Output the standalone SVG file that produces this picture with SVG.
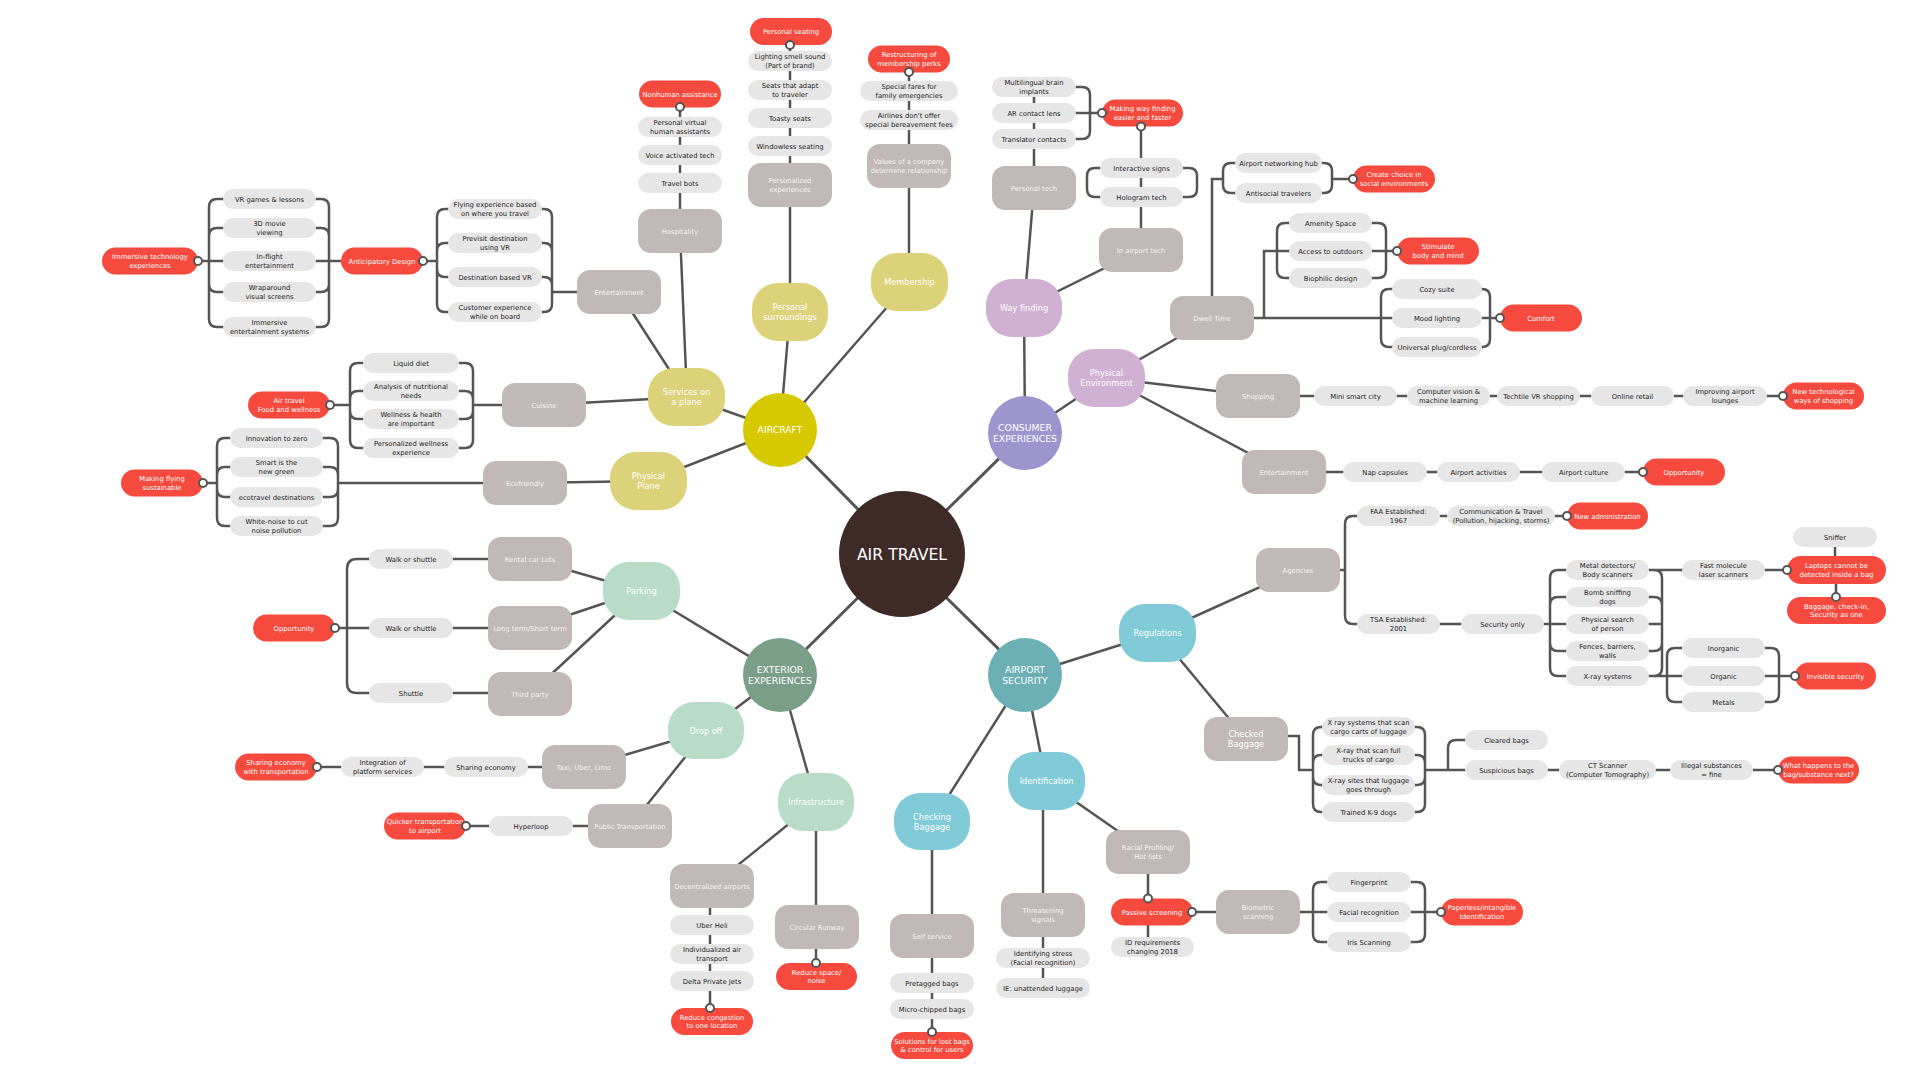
<svg xmlns="http://www.w3.org/2000/svg" width="1920" height="1080" viewBox="0 0 1920 1080">
<style>
.mn{fill:none;stroke:#555;stroke-width:3}
.ln{fill:none;stroke:#555;stroke-width:2.5}
.pill{fill:#e6e6e6}
.gb{fill:#c1b9b7}
.rd{fill:#f54a3d}
.dot{fill:#fff;stroke:#555;stroke-width:2}
.ya{fill:#dcd27a}.pa{fill:#d0b0d3}.ma{fill:#b8dcc8}.ca{fill:#80cbd7}
text{font-family:'DejaVu Sans',Verdana,sans-serif;text-anchor:middle}
.tp{font-size:6.8px;fill:#222}
.tw{font-size:6.8px;fill:#fff}
.tg{font-size:6.8px;fill:#f6f3f1}
.t2{font-size:8.2px;fill:#fff}
.t1{font-size:9.3px;fill:#fff}
.tc{font-size:15.7px;fill:#fff}
</style>
<rect width="1920" height="1080" fill="#fff"/>
<g id="connectors">
<path class="mn" d="M902 554L780 430M902 554L1025 433M902 554L780 675M902 554L1025 675"/>
<path class="ln" d="M780 430L687 397M780 430L648 481M780 430L790 312M780 430L909 282M687 397L544 405M687 397L680 231M687 397L619 292M648 481L525 483M790 45V312M909 72V282M680 107V231"/>
<path class="ln" d="M619 292H552M423 261H437M329 261H341M198 261H209"/>
<path class="ln" d="M209 207V319M209 207Q209 199 217 199H226M209 236Q209 228 217 228H226M209 261H226M209 284Q209 292 217 292H226M209 319Q209 327 217 327H226"/>
<path class="ln" d="M329 207V319M329 207Q329 199 321 199H313M329 236Q329 228 321 228H313M329 261H313M329 284Q329 292 321 292H313M329 319Q329 327 321 327H313"/>
<path class="ln" d="M437 217V304M437 217Q437 209 445 209H451M437 251Q437 243 445 243H451M437 269Q437 277 445 277H451M437 304Q437 312 445 312H451"/>
<path class="ln" d="M552 217V304M552 217Q552 209 544 209H539M552 251Q552 243 544 243H539M552 285Q552 277 544 277H539M552 304Q552 312 544 312H539"/>
<path class="ln" d="M544 405H473M330 405H350"/>
<path class="ln" d="M350 371V440M350 371Q350 363 358 363H366M350 399Q350 391 358 391H366M350 411Q350 419 358 419H366M350 440Q350 448 358 448H366"/>
<path class="ln" d="M473 371V440M473 371Q473 363 465 363H456M473 399Q473 391 465 391H456M473 411Q473 419 465 419H456M473 440Q473 448 465 448H456"/>
<path class="ln" d="M525 483H338M203 483H217"/>
<path class="ln" d="M217 446V518M217 446Q217 438 225 438H233M217 475Q217 467 225 467H233M217 489Q217 497 225 497H233M217 518Q217 526 225 526H233"/>
<path class="ln" d="M338 446V518M338 446Q338 438 330 438H320M338 475Q338 467 330 467H320M338 489Q338 497 330 497H320M338 518Q338 526 330 526H320"/>
<path class="ln" d="M780 675L641 591M641 591L530 559M641 591L530 628M641 591L530 694M411 559H530M335 628H530M411 693H530"/>
<path class="ln" d="M347 569V683M347 569Q347 559 357 559H372M347 683Q347 693 357 693H372"/>
<path class="ln" d="M780 675L706 731M706 731L584 767M706 731L630 826M317 767H584M466 826H630"/>
<path class="ln" d="M780 675L816 802M816 802L712 886M710 886V1008M816 802V963"/>
<path class="ln" d="M1025 433L1024 308M1025 433L1107 378M1024 308L1034 188M1024 308L1141 250M1034 87V188M1141 126V250"/>
<path class="ln" d="M1090 95V131M1090 95Q1090 87 1082 87H1073M1090 113H1073M1090 131Q1090 139 1082 139H1073M1090 113H1102"/>
<path class="ln" d="M1087 176V189M1087 176Q1087 168 1095 168H1103M1087 189Q1087 197 1095 197H1103M1197 176V189M1197 176Q1197 168 1189 168H1180M1197 189Q1197 197 1189 197H1180"/>
<path class="ln" d="M1107 378L1212 318M1107 378L1258 396M1107 378L1284 472M1258 396H1783M1284 472H1643"/>
<path class="ln" d="M1212 318V179H1223M1212 318H1381M1264 318V251H1277M1332 179H1353M1386 251H1397M1490 318H1500"/>
<path class="ln" d="M1223 171V185M1223 171Q1223 163 1231 163H1238M1223 185Q1223 193 1231 193H1238M1332 171V185M1332 171Q1332 163 1324 163H1319M1332 185Q1332 193 1324 193H1319"/>
<path class="ln" d="M1277 231V270M1277 231Q1277 223 1285 223H1292M1277 251H1292M1277 270Q1277 278 1285 278H1292M1386 231V270M1386 231Q1386 223 1378 223H1369M1386 251H1369M1386 270Q1386 278 1378 278H1369"/>
<path class="ln" d="M1381 297V339M1381 297Q1381 289 1389 289H1395M1381 318H1395M1381 339Q1381 347 1389 347H1395M1490 297V339M1490 297Q1490 289 1482 289H1479M1490 318H1479M1490 339Q1490 347 1482 347H1479"/>
<path class="ln" d="M1025 675L1158 633M1158 633L1298 570M1158 633L1246 739M1025 675L1046 781M1025 675L932 822M932 822V1032M1043 781V988M1046 781L1148 852M1148 852V947M1192 912H1330M1425 912H1441"/>
<path class="ln" d="M1298 570H1345M1345 524V616M1345 524Q1345 516 1353 516H1360M1345 616Q1345 624 1353 624H1360M1398 516H1567M1398 624H1550"/>
<path class="ln" d="M1550 578V668M1550 578Q1550 570 1558 570H1569M1550 605Q1550 597 1558 597H1569M1550 624H1569M1550 643Q1550 651 1558 651H1569M1550 668Q1550 676 1558 676H1569"/>
<path class="ln" d="M1662 578V668M1662 578Q1662 570 1654 570H1646M1662 605Q1662 597 1654 597H1646M1662 624H1646M1662 643Q1662 651 1654 651H1646M1662 668Q1662 676 1654 676H1646M1649 570H1787M1649 676H1667M1835 547V556M1836 584V597"/>
<path class="ln" d="M1667 656V694M1667 656Q1667 648 1675 648H1685M1667 676H1685M1667 694Q1667 702 1675 702H1685M1779 656V694M1779 656Q1779 648 1771 648H1762M1779 676H1762M1779 694Q1779 702 1771 702H1762M1779 676H1795"/>
<path class="ln" d="M1288 736H1299V770H1313M1425 770H1778M1448 770V748Q1448 740 1456 740H1468"/>
<path class="ln" d="M1313 735V804M1313 735Q1313 727 1321 727H1325M1313 763Q1313 755 1321 755H1325M1313 777Q1313 785 1321 785H1325M1313 804Q1313 812 1321 812H1325"/>
<path class="ln" d="M1425 735V804M1425 735Q1425 727 1417 727H1412M1425 763Q1425 755 1417 755H1412M1425 777Q1425 785 1417 785H1412M1425 804Q1425 812 1417 812H1412"/>
<path class="ln" d="M1313 890V934M1313 890Q1313 882 1321 882H1330M1313 934Q1313 942 1321 942H1330M1425 890V934M1425 890Q1425 882 1417 882H1408M1425 912H1408M1425 934Q1425 942 1417 942H1408"/>
</g>
<g id="nodes">
<g id="air-travel"><circle cx="902" cy="554" r="63" fill="#3e2b28"/><text class="tc" x="902" y="559.7">AIR TRAVEL</text></g>
<g id="aircraft"><circle cx="780" cy="430" r="37" fill="#d6c900"/><text class="t1" x="780" y="433.4">AIRCRAFT</text></g>
<g id="consumer-experiences"><circle cx="1025" cy="433" r="37" fill="#9c95ce"/><text class="t1" x="1025" y="430.9">CONSUMER<tspan x="1025" dy="11">EXPERIENCES</tspan></text></g>
<g id="exterior-experiences"><circle cx="780" cy="675" r="37" fill="#7b9e89"/><text class="t1" x="780" y="672.9">EXTERIOR<tspan x="780" dy="11">EXPERIENCES</tspan></text></g>
<g id="airport-security"><circle cx="1025" cy="675" r="37" fill="#6cb0b6"/><text class="t1" x="1025" y="672.9">AIRPORT<tspan x="1025" dy="11">SECURITY</tspan></text></g>

<g id="services-on-a-plane"><rect class="ya" x="648" y="368" width="77" height="58" rx="26"/><text class="t2" x="686.5" y="395">Services on<tspan x="686.5" dy="10">a plane</tspan></text></g>
<g id="physical-plane"><rect class="ya" x="610" y="452" width="77" height="58" rx="26"/><text class="t2" x="648.5" y="479">Physical<tspan x="648.5" dy="10">Plane</tspan></text></g>
<g id="personal-surroundings"><rect class="ya" x="752" y="283" width="76" height="58" rx="26"/><text class="t2" x="790" y="310">Personal<tspan x="790" dy="10">surroundings</tspan></text></g>
<g id="membership"><rect class="ya" x="871" y="253" width="77" height="58" rx="26"/><text class="t2" x="909.5" y="285">Membership</text></g>
<g id="way-finding"><rect class="pa" x="986" y="279" width="76" height="58" rx="26"/><text class="t2" x="1024" y="311">Way finding</text></g>
<g id="physical-environment"><rect class="pa" x="1068" y="349" width="77" height="58" rx="26"/><text class="t2" x="1106.5" y="376">Physical<tspan x="1106.5" dy="10">Environment</tspan></text></g>
<g id="parking"><rect class="ma" x="603" y="562" width="77" height="58" rx="26"/><text class="t2" x="641.5" y="594">Parking</text></g>
<g id="drop-off"><rect class="ma" x="668" y="702" width="76" height="57" rx="26"/><text class="t2" x="706" y="733.5">Drop off</text></g>
<g id="infrastructure"><rect class="ma" x="778" y="773" width="76" height="58" rx="26"/><text class="t2" x="816" y="805">Infrastructure</text></g>
<g id="regulations"><rect class="ca" x="1119" y="604" width="77" height="58" rx="26"/><text class="t2" x="1157.5" y="636">Regulations</text></g>
<g id="identification"><rect class="ca" x="1008" y="752" width="77" height="58" rx="26"/><text class="t2" x="1046.5" y="784">Identification</text></g>
<g id="checking-baggage"><rect class="ca" x="894" y="793" width="76" height="57" rx="26"/><text class="t2" x="932" y="819.5">Checking<tspan x="932" dy="10">Baggage</tspan></text></g>

<g id="cuisine"><rect class="gb" x="502" y="383" width="84" height="44" rx="13"/><text class="tg" x="544" y="407.5">Cuisine</text></g>
<g id="ecofriendly"><rect class="gb" x="483" y="461" width="84" height="44" rx="13"/><text class="tg" x="525" y="485.5">Ecofriendly</text></g>
<g id="entertainment-aircraft"><rect class="gb" x="577" y="270" width="84" height="44" rx="13"/><text class="tg" x="619" y="294.5">Entertainment</text></g>
<g id="hospitality"><rect class="gb" x="638" y="209" width="84" height="44" rx="13"/><text class="tg" x="680" y="233.5">Hospitality</text></g>
<g id="personalized-experiences"><rect class="gb" x="748" y="163" width="84" height="44" rx="13"/><text class="tg" x="790" y="183.35">Personalized<tspan x="790" dy="8.3">experiences</tspan></text></g>
<g id="values-of-a-company"><rect class="gb" x="867" y="144" width="84" height="44" rx="13"/><text class="tg" x="909" y="164.35">Values of a company<tspan x="909" dy="8.3">determine relationship</tspan></text></g>
<g id="personal-tech"><rect class="gb" x="992" y="166" width="84" height="44" rx="13"/><text class="tg" x="1034" y="190.5">Personal tech</text></g>
<g id="in-airport-tech"><rect class="gb" x="1099" y="228" width="84" height="44" rx="13"/><text class="tg" x="1141" y="252.5">In airport tech</text></g>
<g id="dwell-time"><rect class="gb" x="1170" y="296" width="84" height="44" rx="13"/><text class="tg" x="1212" y="320.5">Dwell Time</text></g>
<g id="shopping"><rect class="gb" x="1216" y="374" width="84" height="44" rx="13"/><text class="tg" x="1258" y="398.5">Shopping</text></g>
<g id="entertainment-consumer"><rect class="gb" x="1242" y="450" width="84" height="44" rx="13"/><text class="tg" x="1284" y="474.5">Entertainment</text></g>
<g id="agencies"><rect class="gb" x="1256" y="548" width="84" height="44" rx="13"/><text class="tg" x="1298" y="572.5">Agencies</text></g>
<g id="checked-baggage"><rect class="gb" x="1204" y="717" width="84" height="44" rx="13"/><text class="t2" x="1246" y="737">Checked<tspan x="1246" dy="10">Baggage</tspan></text></g>
<g id="rental-car-lots"><rect class="gb" x="488" y="537" width="84" height="44" rx="13"/><text class="tg" x="530" y="561.5">Rental car Lots</text></g>
<g id="long-term"><rect class="gb" x="488" y="606" width="84" height="44" rx="13"/><text class="tg" x="530" y="630.5">Long term/Short term</text></g>
<g id="third-party"><rect class="gb" x="488" y="672" width="84" height="44" rx="13"/><text class="tg" x="530" y="696.5">Third party</text></g>
<g id="taxi-uber-limo"><rect class="gb" x="542" y="745" width="84" height="44" rx="13"/><text class="tg" x="584" y="769.5">Taxi, Uber, Limo</text></g>
<g id="public-transportation"><rect class="gb" x="588" y="804" width="84" height="44" rx="13"/><text class="tg" x="630" y="828.5">Public Transportation</text></g>
<g id="decentralized-airports"><rect class="gb" x="670" y="864" width="84" height="44" rx="13"/><text class="tg" x="712" y="888.5">Decentralized airports</text></g>
<g id="circular-runway"><rect class="gb" x="775" y="905" width="84" height="44" rx="13"/><text class="tg" x="817" y="929.5">Circular Runway</text></g>
<g id="self-service"><rect class="gb" x="890" y="914" width="84" height="44" rx="13"/><text class="tg" x="932" y="938.5">Self service</text></g>
<g id="threatening-signals"><rect class="gb" x="1001" y="893" width="84" height="44" rx="13"/><text class="tg" x="1043" y="913.35">Threatening<tspan x="1043" dy="8.3">signals</tspan></text></g>
<g id="racial-profiling"><rect class="gb" x="1106" y="830" width="84" height="44" rx="13"/><text class="tg" x="1148" y="850.35">Racial Profiling/<tspan x="1148" dy="8.3">Hot lists</tspan></text></g>
<g id="biometric-scanning"><rect class="gb" x="1216" y="890" width="84" height="44" rx="13"/><text class="tg" x="1258" y="910.35">Biometric<tspan x="1258" dy="8.3">scanning</tspan></text></g>

<g id="vr-games"><rect class="pill" x="223" y="189" width="93" height="20" rx="10"/><text class="tp" x="269.5" y="201.5">VR games &amp; lessons</text></g>
<g id="3d-movie"><rect class="pill" x="223" y="218" width="93" height="20" rx="10"/><text class="tp" x="269.5" y="226.35">3D movie<tspan x="269.5" dy="8.3">viewing</tspan></text></g>
<g id="in-flight"><rect class="pill" x="223" y="251" width="93" height="20" rx="10"/><text class="tp" x="269.5" y="259.35">In-flight<tspan x="269.5" dy="8.3">entertainment</tspan></text></g>
<g id="wraparound"><rect class="pill" x="223" y="282" width="93" height="20" rx="10"/><text class="tp" x="269.5" y="290.35">Wraparound<tspan x="269.5" dy="8.3">visual screens</tspan></text></g>
<g id="immersive-entertainment"><rect class="pill" x="223" y="317" width="93" height="20" rx="10"/><text class="tp" x="269.5" y="325.35">Immersive<tspan x="269.5" dy="8.3">entertainment systems</tspan></text></g>
<g id="immersive-technology"><rect class="rd" x="102" y="247.5" width="96" height="27" rx="13.5"/><text class="tw" x="150" y="259.35">Immersive technology<tspan x="150" dy="8.3">experiences</tspan></text><circle class="dot" cx="198" cy="261" r="4"/></g>
<g id="anticipatory-design"><rect class="rd" x="341" y="247.5" width="82" height="27" rx="13.5"/><text class="tw" x="382" y="263.5">Anticipatory Design</text><circle class="dot" cx="423" cy="261" r="4"/></g>
<g id="flying-experience"><rect class="pill" x="448" y="199" width="94" height="20" rx="10"/><text class="tp" x="495" y="207.35">Flying experience based<tspan x="495" dy="8.3">on where you travel</tspan></text></g>
<g id="previsit"><rect class="pill" x="448" y="233" width="94" height="20" rx="10"/><text class="tp" x="495" y="241.35">Previsit destination<tspan x="495" dy="8.3">using VR</tspan></text></g>
<g id="destination-vr"><rect class="pill" x="448" y="267" width="94" height="20" rx="10"/><text class="tp" x="495" y="279.5">Destination based VR</text></g>
<g id="customer-experience"><rect class="pill" x="448" y="302" width="94" height="20" rx="10"/><text class="tp" x="495" y="310.35">Customer experience<tspan x="495" dy="8.3">while on board</tspan></text></g>

<g id="personal-virtual"><rect class="pill" x="638" y="117" width="84" height="20" rx="10"/><text class="tp" x="680" y="125.35">Personal virtual<tspan x="680" dy="8.3">human assistants</tspan></text></g>
<g id="voice-activated"><rect class="pill" x="638" y="145" width="84" height="20" rx="10"/><text class="tp" x="680" y="157.5">Voice activated tech</text></g>
<g id="travel-bots"><rect class="pill" x="638" y="173" width="84" height="20" rx="10"/><text class="tp" x="680" y="185.5">Travel bots</text></g>
<g id="nonhuman-assistance"><rect class="rd" x="639" y="80.5" width="82" height="27" rx="13.5"/><text class="tw" x="680" y="96.5">Nonhuman assistance</text><circle class="dot" cx="680" cy="107" r="4"/></g>
<g id="lighting-smell"><rect class="pill" x="748" y="51" width="84" height="20" rx="10"/><text class="tp" x="790" y="59.35">Lighting smell sound<tspan x="790" dy="8.3">(Part of brand)</tspan></text></g>
<g id="seats-adapt"><rect class="pill" x="748" y="80" width="84" height="20" rx="10"/><text class="tp" x="790" y="88.35">Seats that adapt<tspan x="790" dy="8.3">to traveler</tspan></text></g>
<g id="toasty-seats"><rect class="pill" x="748" y="108" width="84" height="20" rx="10"/><text class="tp" x="790" y="120.5">Toasty seats</text></g>
<g id="windowless-seating"><rect class="pill" x="748" y="136" width="84" height="20" rx="10"/><text class="tp" x="790" y="148.5">Windowless seating</text></g>
<g id="personal-seating"><rect class="rd" x="750" y="18" width="82" height="27" rx="13.5"/><text class="tw" x="791" y="34">Personal seating</text><circle class="dot" cx="790" cy="45" r="4"/></g>
<g id="special-fares"><rect class="pill" x="860" y="81" width="98" height="20" rx="10"/><text class="tp" x="909" y="89.35">Special fares for<tspan x="909" dy="8.3">family emergencies</tspan></text></g>
<g id="airlines-dont-offer"><rect class="pill" x="860" y="110" width="98" height="20" rx="10"/><text class="tp" x="909" y="118.35">Airlines don't offer<tspan x="909" dy="8.3">special bereavement fees</tspan></text></g>
<g id="restructuring"><rect class="rd" x="868" y="45.5" width="82" height="27" rx="13.5"/><text class="tw" x="909" y="57.35">Restructuring of<tspan x="909" dy="8.3">membership perks</tspan></text><circle class="dot" cx="909" cy="72" r="4"/></g>

<g id="liquid-diet"><rect class="pill" x="363" y="353" width="96" height="20" rx="10"/><text class="tp" x="411" y="365.5">Liquid diet</text></g>
<g id="analysis-nutritional"><rect class="pill" x="363" y="381" width="96" height="20" rx="10"/><text class="tp" x="411" y="389.35">Analysis of nutritional<tspan x="411" dy="8.3">needs</tspan></text></g>
<g id="wellness-health"><rect class="pill" x="363" y="409" width="96" height="20" rx="10"/><text class="tp" x="411" y="417.35">Wellness &amp; health<tspan x="411" dy="8.3">are important</tspan></text></g>
<g id="personalized-wellness"><rect class="pill" x="363" y="438" width="96" height="20" rx="10"/><text class="tp" x="411" y="446.35">Personalized wellness<tspan x="411" dy="8.3">experience</tspan></text></g>
<g id="food-wellness"><rect class="rd" x="248" y="391.5" width="82" height="27" rx="13.5"/><text class="tw" x="289" y="403.35">Air travel<tspan x="289" dy="8.3">Food and wellness</tspan></text><circle class="dot" cx="330" cy="405" r="4"/></g>
<g id="innovation-zero"><rect class="pill" x="230" y="428" width="93" height="20" rx="10"/><text class="tp" x="276.5" y="440.5">Innovation to zero</text></g>
<g id="smart-green"><rect class="pill" x="230" y="457" width="93" height="20" rx="10"/><text class="tp" x="276.5" y="465.35">Smart is the<tspan x="276.5" dy="8.3">new green</tspan></text></g>
<g id="ecotravel"><rect class="pill" x="230" y="487" width="93" height="20" rx="10"/><text class="tp" x="276.5" y="499.5">ecotravel destinations</text></g>
<g id="white-noise"><rect class="pill" x="230" y="516" width="93" height="20" rx="10"/><text class="tp" x="276.5" y="524.35">White-noise to cut<tspan x="276.5" dy="8.3">noise pollution</tspan></text></g>
<g id="making-flying-sustainable"><rect class="rd" x="121" y="469.5" width="82" height="27" rx="13.5"/><text class="tw" x="162" y="481.35">Making flying<tspan x="162" dy="8.3">sustainable</tspan></text><circle class="dot" cx="203" cy="483" r="4"/></g>

<g id="walk-shuttle-1"><rect class="pill" x="369" y="549" width="84" height="20" rx="10"/><text class="tp" x="411" y="561.5">Walk or shuttle</text></g>
<g id="walk-shuttle-2"><rect class="pill" x="369" y="618" width="84" height="20" rx="10"/><text class="tp" x="411" y="630.5">Walk or shuttle</text></g>
<g id="shuttle"><rect class="pill" x="369" y="683" width="84" height="20" rx="10"/><text class="tp" x="411" y="695.5">Shuttle</text></g>
<g id="opportunity-parking"><rect class="rd" x="253" y="614.5" width="82" height="27" rx="13.5"/><text class="tw" x="294" y="630.5">Opportunity</text><circle class="dot" cx="335" cy="628" r="4"/></g>
<g id="sharing-economy"><rect class="pill" x="444" y="757" width="84" height="20" rx="10"/><text class="tp" x="486" y="769.5">Sharing economy</text></g>
<g id="integration-platform"><rect class="pill" x="341" y="757" width="83" height="20" rx="10"/><text class="tp" x="382.5" y="765.35">Integration of<tspan x="382.5" dy="8.3">platform services</tspan></text></g>
<g id="sharing-transportation"><rect class="rd" x="235" y="753.5" width="82" height="27" rx="13.5"/><text class="tw" x="276" y="765.35">Sharing economy<tspan x="276" dy="8.3">with transportation</tspan></text><circle class="dot" cx="317" cy="767" r="4"/></g>
<g id="hyperloop"><rect class="pill" x="489" y="816" width="84" height="20" rx="10"/><text class="tp" x="531" y="828.5">Hyperloop</text></g>
<g id="quicker-transportation"><rect class="rd" x="384" y="812.5" width="82" height="27" rx="13.5"/><text class="tw" x="425" y="824.35">Quicker transportation<tspan x="425" dy="8.3">to airport</tspan></text><circle class="dot" cx="466" cy="826" r="4"/></g>
<g id="uber-heli"><rect class="pill" x="670" y="915" width="84" height="20" rx="10"/><text class="tp" x="712" y="927.5">Uber Heli</text></g>
<g id="individualized-air"><rect class="pill" x="670" y="944" width="84" height="20" rx="10"/><text class="tp" x="712" y="952.35">Individualized air<tspan x="712" dy="8.3">transport</tspan></text></g>
<g id="delta-private-jets"><rect class="pill" x="670" y="971" width="84" height="20" rx="10"/><text class="tp" x="712" y="983.5">Delta Private Jets</text></g>
<g id="reduce-congestion"><rect class="rd" x="671" y="1008" width="82" height="27" rx="13.5"/><text class="tw" x="712" y="1019.85">Reduce congestion<tspan x="712" dy="8.3">to one location</tspan></text><circle class="dot" cx="710" cy="1008" r="4"/></g>
<g id="reduce-space"><rect class="rd" x="776" y="963" width="81" height="27" rx="13.5"/><text class="tw" x="816.5" y="974.85">Reduce space/<tspan x="816.5" dy="8.3">noise</tspan></text><circle class="dot" cx="816" cy="963" r="4"/></g>

<g id="pretagged-bags"><rect class="pill" x="890" y="973" width="84" height="20" rx="10"/><text class="tp" x="932" y="985.5">Pretagged bags</text></g>
<g id="micro-chipped-bags"><rect class="pill" x="890" y="999" width="84" height="20" rx="10"/><text class="tp" x="932" y="1011.5">Micro-chipped bags</text></g>
<g id="solutions-lost-bags"><rect class="rd" x="891" y="1032" width="82" height="27" rx="13.5"/><text class="tw" x="932" y="1043.85">Solutions for lost bags<tspan x="932" dy="8.3">&amp; control for users</tspan></text><circle class="dot" cx="932" cy="1032" r="4"/></g>
<g id="identifying-stress"><rect class="pill" x="996" y="948" width="94" height="20" rx="10"/><text class="tp" x="1043" y="956.35">Identifying stress<tspan x="1043" dy="8.3">(Facial recognition)</tspan></text></g>
<g id="unattended-luggage"><rect class="pill" x="996" y="978" width="94" height="20" rx="10"/><text class="tp" x="1043" y="990.5">IE: unattended luggage</text></g>
<g id="id-requirements"><rect class="pill" x="1111" y="937" width="83" height="20" rx="10"/><text class="tp" x="1152.5" y="945.35">ID requirements<tspan x="1152.5" dy="8.3">changing 2018</tspan></text></g>
<g id="passive-screening"><rect class="rd" x="1111" y="898.5" width="82" height="27" rx="13.5"/><text class="tw" x="1152" y="914.5">Passive screening</text><circle class="dot" cx="1148" cy="898.5" r="4"/><circle class="dot" cx="1192" cy="912" r="4"/></g>
<g id="fingerprint"><rect class="pill" x="1327" y="872" width="84" height="20" rx="10"/><text class="tp" x="1369" y="884.5">Fingerprint</text></g>
<g id="facial-recognition"><rect class="pill" x="1327" y="902" width="84" height="20" rx="10"/><text class="tp" x="1369" y="914.5">Facial recognition</text></g>
<g id="iris-scanning"><rect class="pill" x="1327" y="932" width="84" height="20" rx="10"/><text class="tp" x="1369" y="944.5">Iris Scanning</text></g>
<g id="paperless-identification"><rect class="rd" x="1441" y="898.5" width="82" height="27" rx="13.5"/><text class="tw" x="1482" y="910.35">Paperless/intangible<tspan x="1482" dy="8.3">Identification</tspan></text><circle class="dot" cx="1441" cy="912" r="4"/></g>

<g id="faa"><rect class="pill" x="1357" y="506" width="83" height="20" rx="10"/><text class="tp" x="1398.5" y="514.35">FAA Established:<tspan x="1398.5" dy="8.3">1967</tspan></text></g>
<g id="tsa"><rect class="pill" x="1357" y="614" width="83" height="20" rx="10"/><text class="tp" x="1398.5" y="622.35">TSA Established:<tspan x="1398.5" dy="8.3">2001</tspan></text></g>
<g id="communication-travel"><rect class="pill" x="1447" y="506" width="108" height="20" rx="10"/><text class="tp" x="1501" y="514.35">Communication &amp; Travel<tspan x="1501" dy="8.3">(Pollution, hijacking, storms)</tspan></text></g>
<g id="new-administration"><rect class="rd" x="1567" y="502.5" width="81" height="27" rx="13.5"/><text class="tw" x="1607.5" y="518.5">New administration</text><circle class="dot" cx="1567" cy="516" r="4"/></g>
<g id="security-only"><rect class="pill" x="1461" y="614" width="83" height="20" rx="10"/><text class="tp" x="1502.5" y="626.5">Security only</text></g>
<g id="metal-detectors"><rect class="pill" x="1566" y="560" width="83" height="20" rx="10"/><text class="tp" x="1607.5" y="568.35">Metal detectors/<tspan x="1607.5" dy="8.3">Body scanners</tspan></text></g>
<g id="bomb-sniffing"><rect class="pill" x="1566" y="587" width="83" height="20" rx="10"/><text class="tp" x="1607.5" y="595.35">Bomb sniffing<tspan x="1607.5" dy="8.3">dogs</tspan></text></g>
<g id="physical-search"><rect class="pill" x="1566" y="614" width="83" height="20" rx="10"/><text class="tp" x="1607.5" y="622.35">Physical search<tspan x="1607.5" dy="8.3">of person</tspan></text></g>
<g id="fences"><rect class="pill" x="1566" y="641" width="83" height="20" rx="10"/><text class="tp" x="1607.5" y="649.35">Fences, barriers,<tspan x="1607.5" dy="8.3">walls</tspan></text></g>
<g id="x-ray-systems"><rect class="pill" x="1566" y="666" width="83" height="20" rx="10"/><text class="tp" x="1607.5" y="678.5">X-ray systems</text></g>
<g id="fast-molecule"><rect class="pill" x="1682" y="560" width="83" height="20" rx="10"/><text class="tp" x="1723.5" y="568.35">Fast molecule<tspan x="1723.5" dy="8.3">laser scanners</tspan></text></g>
<g id="sniffer"><rect class="pill" x="1793" y="527" width="84" height="20" rx="10"/><text class="tp" x="1835" y="539.5">Sniffer</text></g>
<g id="laptops"><rect class="rd" x="1787" y="556" width="99" height="28" rx="14"/><text class="tw" x="1836.5" y="568.35">Laptops cannot be<tspan x="1836.5" dy="8.3">detected inside a bag</tspan></text><circle class="dot" cx="1787" cy="570" r="4"/></g>
<g id="baggage-security-one"><rect class="rd" x="1787" y="597" width="99" height="27" rx="13.5"/><text class="tw" x="1836.5" y="608.85">Baggage, check-in,<tspan x="1836.5" dy="8.3">Security as one</tspan></text><circle class="dot" cx="1836" cy="597" r="4"/></g>
<g id="inorganic"><rect class="pill" x="1682" y="638" width="83" height="20" rx="10"/><text class="tp" x="1723.5" y="650.5">Inorganic</text></g>
<g id="organic"><rect class="pill" x="1682" y="666" width="83" height="20" rx="10"/><text class="tp" x="1723.5" y="678.5">Organic</text></g>
<g id="metals"><rect class="pill" x="1682" y="692" width="83" height="20" rx="10"/><text class="tp" x="1723.5" y="704.5">Metals</text></g>
<g id="invisible-security"><rect class="rd" x="1795" y="662.5" width="81" height="27" rx="13.5"/><text class="tw" x="1835.5" y="678.5">Invisible security</text><circle class="dot" cx="1795" cy="676" r="4"/></g>

<g id="xray-cargo"><rect class="pill" x="1322" y="717" width="93" height="20" rx="10"/><text class="tp" x="1368.5" y="725.35">X ray systems that scan<tspan x="1368.5" dy="8.3">cargo carts of luggage</tspan></text></g>
<g id="xray-trucks"><rect class="pill" x="1322" y="745" width="93" height="20" rx="10"/><text class="tp" x="1368.5" y="753.35">X-ray that scan full<tspan x="1368.5" dy="8.3">trucks of cargo</tspan></text></g>
<g id="xray-sites"><rect class="pill" x="1322" y="775" width="93" height="20" rx="10"/><text class="tp" x="1368.5" y="783.35">X-ray sites that luggage<tspan x="1368.5" dy="8.3">goes through</tspan></text></g>
<g id="k9-dogs"><rect class="pill" x="1322" y="802" width="93" height="20" rx="10"/><text class="tp" x="1368.5" y="814.5">Trained K-9 dogs</text></g>
<g id="cleared-bags"><rect class="pill" x="1465" y="730" width="83" height="20" rx="10"/><text class="tp" x="1506.5" y="742.5">Cleared bags</text></g>
<g id="suspicious-bags"><rect class="pill" x="1465" y="760" width="83" height="20" rx="10"/><text class="tp" x="1506.5" y="772.5">Suspicious bags</text></g>
<g id="ct-scanner"><rect class="pill" x="1559" y="760" width="97" height="20" rx="10"/><text class="tp" x="1607.5" y="768.35">CT Scanner<tspan x="1607.5" dy="8.3">(Computer Tomography)</tspan></text></g>
<g id="illegal-substances"><rect class="pill" x="1670" y="760" width="83" height="20" rx="10"/><text class="tp" x="1711.5" y="768.35">Illegal substances<tspan x="1711.5" dy="8.3">= fine</tspan></text></g>
<g id="what-happens-next"><rect class="rd" x="1778" y="756.5" width="81" height="27" rx="13.5"/><text class="tw" x="1818.5" y="768.35">What happens to the<tspan x="1818.5" dy="8.3">bag/substance next?</tspan></text><circle class="dot" cx="1778" cy="770" r="4"/></g>

<g id="multilingual-implants"><rect class="pill" x="992" y="77" width="84" height="20" rx="10"/><text class="tp" x="1034" y="85.35">Multilingual brain<tspan x="1034" dy="8.3">implants</tspan></text></g>
<g id="ar-contact-lens"><rect class="pill" x="992" y="103" width="84" height="20" rx="10"/><text class="tp" x="1034" y="115.5">AR contact lens</text></g>
<g id="translator-contacts"><rect class="pill" x="992" y="129" width="84" height="20" rx="10"/><text class="tp" x="1034" y="141.5">Translator contacts</text></g>
<g id="making-way-finding"><rect class="rd" x="1102" y="99.5" width="81" height="27" rx="13.5"/><text class="tw" x="1142.5" y="111.35">Making way finding<tspan x="1142.5" dy="8.3">easier and faster</tspan></text><circle class="dot" cx="1102" cy="113" r="4"/><circle class="dot" cx="1141" cy="126.5" r="4"/></g>
<g id="interactive-signs"><rect class="pill" x="1100" y="158" width="83" height="20" rx="10"/><text class="tp" x="1141.5" y="170.5">Interactive signs</text></g>
<g id="hologram-tech"><rect class="pill" x="1100" y="187" width="83" height="20" rx="10"/><text class="tp" x="1141.5" y="199.5">Hologram tech</text></g>
<g id="airport-networking-hub"><rect class="pill" x="1235" y="153" width="87" height="20" rx="10"/><text class="tp" x="1278.5" y="165.5">Airport networking hub</text></g>
<g id="antisocial-travelers"><rect class="pill" x="1235" y="183" width="87" height="20" rx="10"/><text class="tp" x="1278.5" y="195.5">Antisocial travelers</text></g>
<g id="create-choice"><rect class="rd" x="1353" y="165.5" width="82" height="27" rx="13.5"/><text class="tw" x="1394" y="177.35">Create choice in<tspan x="1394" dy="8.3">social environments</tspan></text><circle class="dot" cx="1353" cy="179" r="4"/></g>
<g id="amenity-space"><rect class="pill" x="1289" y="213" width="83" height="20" rx="10"/><text class="tp" x="1330.5" y="225.5">Amenity Space</text></g>
<g id="access-outdoors"><rect class="pill" x="1289" y="241" width="83" height="20" rx="10"/><text class="tp" x="1330.5" y="253.5">Access to outdoors</text></g>
<g id="biophilic-design"><rect class="pill" x="1289" y="268" width="83" height="20" rx="10"/><text class="tp" x="1330.5" y="280.5">Biophilic design</text></g>
<g id="stimulate"><rect class="rd" x="1397" y="237.5" width="82" height="27" rx="13.5"/><text class="tw" x="1438" y="249.35">Stimulate<tspan x="1438" dy="8.3">body and mind</tspan></text><circle class="dot" cx="1397" cy="251" r="4"/></g>
<g id="cozy-suite"><rect class="pill" x="1392" y="279" width="90" height="20" rx="10"/><text class="tp" x="1437" y="291.5">Cozy suite</text></g>
<g id="mood-lighting"><rect class="pill" x="1392" y="308" width="90" height="20" rx="10"/><text class="tp" x="1437" y="320.5">Mood lighting</text></g>
<g id="universal-plug"><rect class="pill" x="1392" y="337" width="90" height="20" rx="10"/><text class="tp" x="1437" y="349.5">Universal plug/cordless</text></g>
<g id="comfort"><rect class="rd" x="1500" y="304.5" width="82" height="27" rx="13.5"/><text class="tw" x="1541" y="320.5">Comfort</text><circle class="dot" cx="1500" cy="318" r="4"/></g>
<g id="mini-smart-city"><rect class="pill" x="1314" y="386" width="83" height="20" rx="10"/><text class="tp" x="1355.5" y="398.5">Mini smart city</text></g>
<g id="computer-vision"><rect class="pill" x="1407" y="386" width="83" height="20" rx="10"/><text class="tp" x="1448.5" y="394.35">Computer vision &amp;<tspan x="1448.5" dy="8.3">machine learning</tspan></text></g>
<g id="techtile-vr"><rect class="pill" x="1497" y="386" width="83" height="20" rx="10"/><text class="tp" x="1538.5" y="398.5">Techtile VR shopping</text></g>
<g id="online-retail"><rect class="pill" x="1591" y="386" width="83" height="20" rx="10"/><text class="tp" x="1632.5" y="398.5">Online retail</text></g>
<g id="improving-lounges"><rect class="pill" x="1683" y="386" width="84" height="20" rx="10"/><text class="tp" x="1725" y="394.35">Improving airport<tspan x="1725" dy="8.3">lounges</tspan></text></g>
<g id="new-technological"><rect class="rd" x="1783" y="382.5" width="81" height="27" rx="13.5"/><text class="tw" x="1823.5" y="394.35">New technological<tspan x="1823.5" dy="8.3">ways of shopping</tspan></text><circle class="dot" cx="1783" cy="396" r="4"/></g>
<g id="nap-capsules"><rect class="pill" x="1343" y="462" width="84" height="20" rx="10"/><text class="tp" x="1385" y="474.5">Nap capsules</text></g>
<g id="airport-activities"><rect class="pill" x="1437" y="462" width="83" height="20" rx="10"/><text class="tp" x="1478.5" y="474.5">Airport activities</text></g>
<g id="airport-culture"><rect class="pill" x="1542" y="462" width="83" height="20" rx="10"/><text class="tp" x="1583.5" y="474.5">Airport culture</text></g>
<g id="opportunity-consumer"><rect class="rd" x="1643" y="458.5" width="82" height="27" rx="13.5"/><text class="tw" x="1684" y="474.5">Opportunity</text><circle class="dot" cx="1643" cy="472" r="4"/></g>
</g>
</svg>
